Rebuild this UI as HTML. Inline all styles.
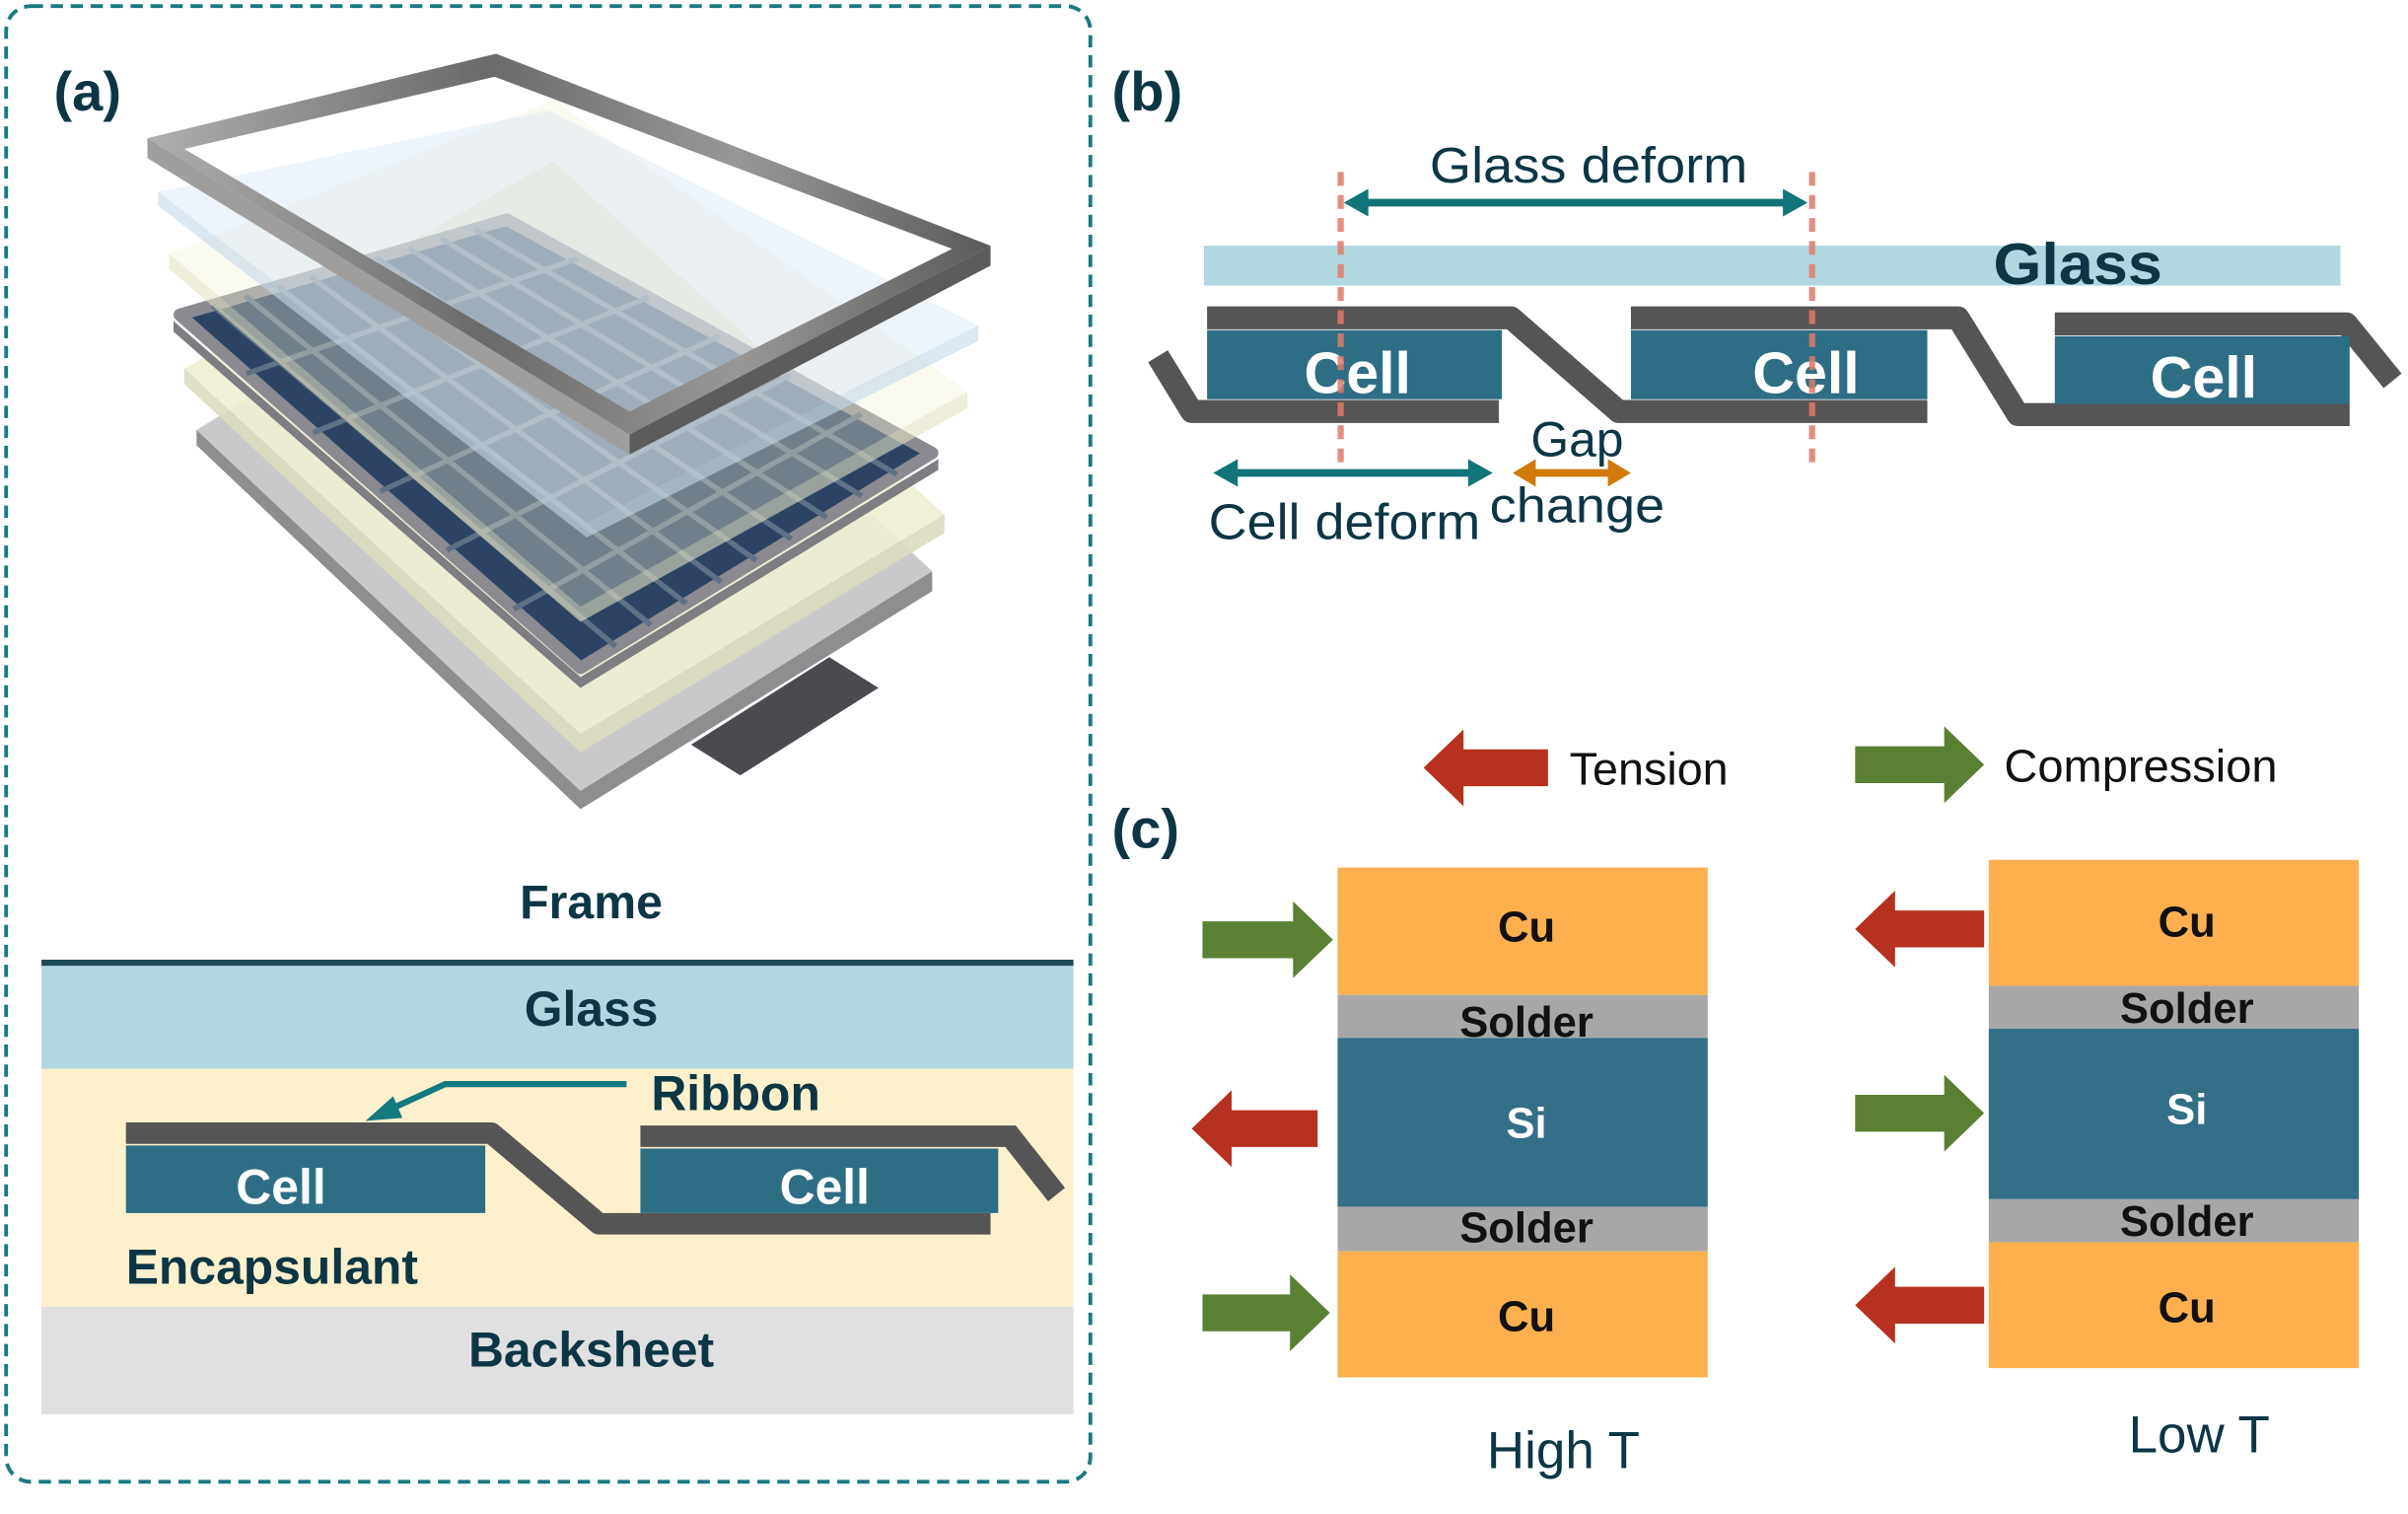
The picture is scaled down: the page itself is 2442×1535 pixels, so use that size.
<!DOCTYPE html>
<html><head><meta charset="utf-8"><style>
html,body{margin:0;padding:0;background:#fff;}
svg{display:block;}
text{font-family:"Liberation Sans",Arial,sans-serif;}
</style></head><body>
<svg width="2442" height="1535" viewBox="0 0 1568 986" preserveAspectRatio="none" xmlns="http://www.w3.org/2000/svg">
<defs>
<linearGradient id="fr" x1="0" y1="0" x2="1" y2="0"><stop offset="0" stop-color="#b0afae"/><stop offset="0.4" stop-color="#6a6a6a"/><stop offset="0.7" stop-color="#9a9896"/><stop offset="1" stop-color="#5a5a5a"/></linearGradient>
</defs>
<rect x="0" y="0" width="1568" height="986" fill="#fff"/>
<rect x="4" y="4" width="706" height="961" rx="16" fill="none" stroke="#1a7a80" stroke-width="2.5" stroke-dasharray="8,5"/>
<text x="35" y="72" font-size="36" font-weight="bold" fill="#0d3645">(a)</text>

<polygon points="450,485 540,428 572,448 482,505" fill="#4b4a50"/>
<polygon points="128,280 378,515 607,372 607,385 378,527 128,290" fill="#8e8e90"/>
<polygon points="128,280 357,140 607,372 378,515" fill="#c9c9cc"/>
<polygon points="120,240 360,105 615,335 378,478" fill="#efeed5" opacity="0.9"/>
<polygon points="120,240 378,478 615,335 615,347 378,490 120,250" fill="#dcdbbf" opacity="0.9"/>
<polygon points="117,205 330,143 607,295 378,435" fill="#2c4363" stroke="#8a8a90" stroke-width="8" stroke-linejoin="round"/>
<polygon points="113,209 378,441 611,299 611,306 378,448 113,216" fill="#7d7d82"/>
<g stroke="#5f7184" stroke-width="3.5">
<line x1="160.5" y1="243.3" x2="376.2" y2="168.3"/><line x1="204" y1="281.7" x2="422.3" y2="193.7"/><line x1="247.5" y1="320" x2="468.5" y2="219"/><line x1="291" y1="358.3" x2="514.7" y2="244.3"/><line x1="334.5" y1="396.7" x2="560.8" y2="269.7"/>
<line x1="138.3" y1="198.8" x2="400.9" y2="421"/><line x1="159.6" y1="192.6" x2="423.8" y2="407"/><line x1="180.9" y1="186.4" x2="446.7" y2="393"/><line x1="202.2" y1="180.2" x2="469.6" y2="379"/><line x1="223.5" y1="174" x2="492.5" y2="365"/><line x1="244.8" y1="167.8" x2="515.4" y2="351"/><line x1="266.1" y1="161.6" x2="538.3" y2="337"/><line x1="287.4" y1="155.4" x2="561.2" y2="323"/><line x1="308.7" y1="149.2" x2="584.1" y2="309"/>
</g>
<polygon points="110,165 360,65 630,255 378,395" fill="#f3f1d6" opacity="0.35"/>
<polygon points="110,165 378,395 630,255 630,266 378,405 110,175" fill="#e5e3c5" opacity="0.6"/>
<polygon points="103,125 357,72 637,212 382,340" fill="#d6e7f6" opacity="0.45"/>
<polygon points="103,125 382,340 637,212 637,222 382,350 103,134" fill="#c4d8ea" opacity="0.6"/>
<path d="M96,90 L323,35 L645,160 L410,283 Z M120,97 L322,50 L620,162 L410,268 Z" fill="url(#fr)" fill-rule="evenodd"/>
<polygon points="96,90 410,283 410,296 96,103" fill="#a09e9c"/>
<polygon points="410,283 645,160 645,173 410,296" fill="#5c5c5c"/>

<text x="385" y="598" font-size="31" font-weight="bold" fill="#0d3645" text-anchor="middle">Frame</text>
<rect x="27" y="696" width="672" height="155" fill="#fdf0cc"/>
<rect x="27" y="629" width="672" height="67" fill="#b1d8e0"/>
<rect x="27" y="851" width="672" height="70" fill="#e0e0e0"/>
<rect x="27" y="625" width="672" height="4" fill="#1e4a55"/>
<text x="385" y="668" font-size="32" font-weight="bold" fill="#0d3645" text-anchor="middle">Glass</text>
<text x="385" y="890" font-size="32" font-weight="bold" fill="#0d3645" text-anchor="middle">Backsheet</text>
<text x="82" y="836" font-size="32" font-weight="bold" fill="#0d3645">Encapsulant</text>
<text x="424" y="723" font-size="32" font-weight="bold" fill="#0d3645">Ribbon</text>
<polyline points="82,738 320,738 390,797 645,797" fill="none" stroke="#555" stroke-width="14" stroke-linejoin="round"/>
<polyline points="417,740 658,740 688,778" fill="none" stroke="#555" stroke-width="14"/>
<rect x="82" y="746" width="234" height="44" fill="#2e6e85"/>
<rect x="417" y="748" width="233" height="42" fill="#2e6e85"/>
<text x="183" y="784" font-size="32" font-weight="bold" fill="#fff" text-anchor="middle">Cell</text>
<text x="537" y="784" font-size="32" font-weight="bold" fill="#fff" text-anchor="middle">Cell</text>
<polyline points="408,706 290,706 255,722" fill="none" stroke="#137a80" stroke-width="4"/>
<polygon points="238,730 256,714 262,728" fill="#137a80"/>

<text x="724" y="72" font-size="36" font-weight="bold" fill="#0d3645">(b)</text>
<text x="931" y="119" font-size="33" fill="#0d3645" textLength="207" lengthAdjust="spacingAndGlyphs">Glass deform</text>
<rect x="784" y="160" width="740" height="26" fill="#b1d8e0"/>
<text x="1298" y="185" font-size="38" font-weight="bold" fill="#0d3645" textLength="110" lengthAdjust="spacingAndGlyphs">Glass</text>
<g fill="none" stroke="#555" stroke-width="15" stroke-linejoin="round">
<polyline points="754,232 776,268 976,268"/>
<polyline points="786,207 984,207 1054,268 1255,268"/>
<polyline points="1062,207 1275,207 1314,270 1530,270"/>
<polyline points="1338,211 1528,211 1558,248"/>
</g>
<rect x="786" y="215" width="192" height="45" fill="#2e6e85"/>
<rect x="1062" y="215" width="193" height="45" fill="#2e6e85"/>
<rect x="1338" y="219" width="192" height="44" fill="#2e6e85"/>
<text x="884" y="256" font-size="38" font-weight="bold" fill="#fff" text-anchor="middle">Cell</text>
<text x="1176" y="256" font-size="38" font-weight="bold" fill="#fff" text-anchor="middle">Cell</text>
<text x="1435" y="259" font-size="38" font-weight="bold" fill="#fff" text-anchor="middle">Cell</text>
<g stroke="#e07a6a" stroke-width="4" stroke-dasharray="9,6" opacity="0.85">
<line x1="873" y1="112" x2="873" y2="305"/><line x1="1180" y1="112" x2="1180" y2="305"/>
</g>
<line x1="885" y1="132" x2="1167" y2="132" stroke="#117478" stroke-width="5"/>
<polygon points="875,132 891,123 891,141" fill="#117478"/><polygon points="1177,132 1161,123 1161,141" fill="#117478"/>
<line x1="800" y1="308" x2="962" y2="308" stroke="#117478" stroke-width="5"/>
<polygon points="790,308 806,299 806,317" fill="#117478"/><polygon points="972,308 956,299 956,317" fill="#117478"/>
<line x1="994" y1="308" x2="1053" y2="308" stroke="#d07a0a" stroke-width="5"/>
<polygon points="985,308 1000,299 1000,317" fill="#d07a0a"/><polygon points="1062,308 1047,299 1047,317" fill="#d07a0a"/>
<text x="1027" y="297" font-size="32" fill="#0d3645" text-anchor="middle">Gap</text>
<text x="970" y="340" font-size="32" fill="#0d3645" textLength="114" lengthAdjust="spacingAndGlyphs">change</text>
<text x="787" y="351" font-size="33" fill="#0d3645" textLength="177" lengthAdjust="spacingAndGlyphs">Cell deform</text>

<text x="724" y="552" font-size="36" font-weight="bold" fill="#0d3645">(c)</text>
<path d="M1008,488 H953 V475 L927,500 L953,525 V512 H1008 Z" fill="#b73120"/>
<text x="1022" y="511" font-size="30" fill="#111">Tension</text>
<path d="M1208,486 H1266 V473 L1292,498 L1266,523 V510 H1208 Z" fill="#5b8033"/>
<text x="1305" y="509" font-size="30" fill="#111" textLength="178" lengthAdjust="spacingAndGlyphs">Compression</text>

<rect x="871" y="565" width="241" height="83" fill="#fdb04d"/>
<rect x="871" y="648" width="241" height="28" fill="#a7a7a7"/>
<rect x="871" y="676" width="241" height="110" fill="#336f87"/>
<rect x="871" y="786" width="241" height="29" fill="#a7a7a7"/>
<rect x="871" y="815" width="241" height="82" fill="#fdb04d"/>
<g font-size="28" font-weight="bold" text-anchor="middle" fill="#111">
<text x="994" y="613">Cu</text><text x="994" y="675">Solder</text><text x="994" y="741" fill="#fff">Si</text><text x="994" y="809">Solder</text><text x="994" y="867">Cu</text>
</g>
<text x="1018" y="956" font-size="34" fill="#0d3645" text-anchor="middle">High T</text>
<path d="M783,600 H842 V587 L868,612 L842,637 V624 H783 Z" fill="#5b8033"/>
<path d="M858,723 H802 V710 L776,735 L802,760 V747 H858 Z" fill="#b73120"/>
<path d="M783,843 H840 V830 L866,855 L840,880 V867 H783 Z" fill="#5b8033"/>

<rect x="1295" y="560" width="241" height="82" fill="#fdb04d"/>
<rect x="1295" y="642" width="241" height="28" fill="#a7a7a7"/>
<rect x="1295" y="670" width="241" height="111" fill="#336f87"/>
<rect x="1295" y="781" width="241" height="28" fill="#a7a7a7"/>
<rect x="1295" y="809" width="241" height="82" fill="#fdb04d"/>
<g font-size="28" font-weight="bold" text-anchor="middle" fill="#111">
<text x="1424" y="610">Cu</text><text x="1424" y="666">Solder</text><text x="1424" y="732" fill="#fff">Si</text><text x="1424" y="805">Solder</text><text x="1424" y="861">Cu</text>
</g>
<text x="1432" y="946" font-size="34" fill="#0d3645" text-anchor="middle">Low T</text>
<path d="M1292,593 H1234 V580 L1208,605 L1234,630 V617 H1292 Z" fill="#b73120"/>
<path d="M1208,713 H1266 V700 L1292,725 L1266,750 V737 H1208 Z" fill="#5b8033"/>
<path d="M1292,838 H1234 V825 L1208,850 L1234,875 V862 H1292 Z" fill="#b73120"/>
</svg>
</body></html>
